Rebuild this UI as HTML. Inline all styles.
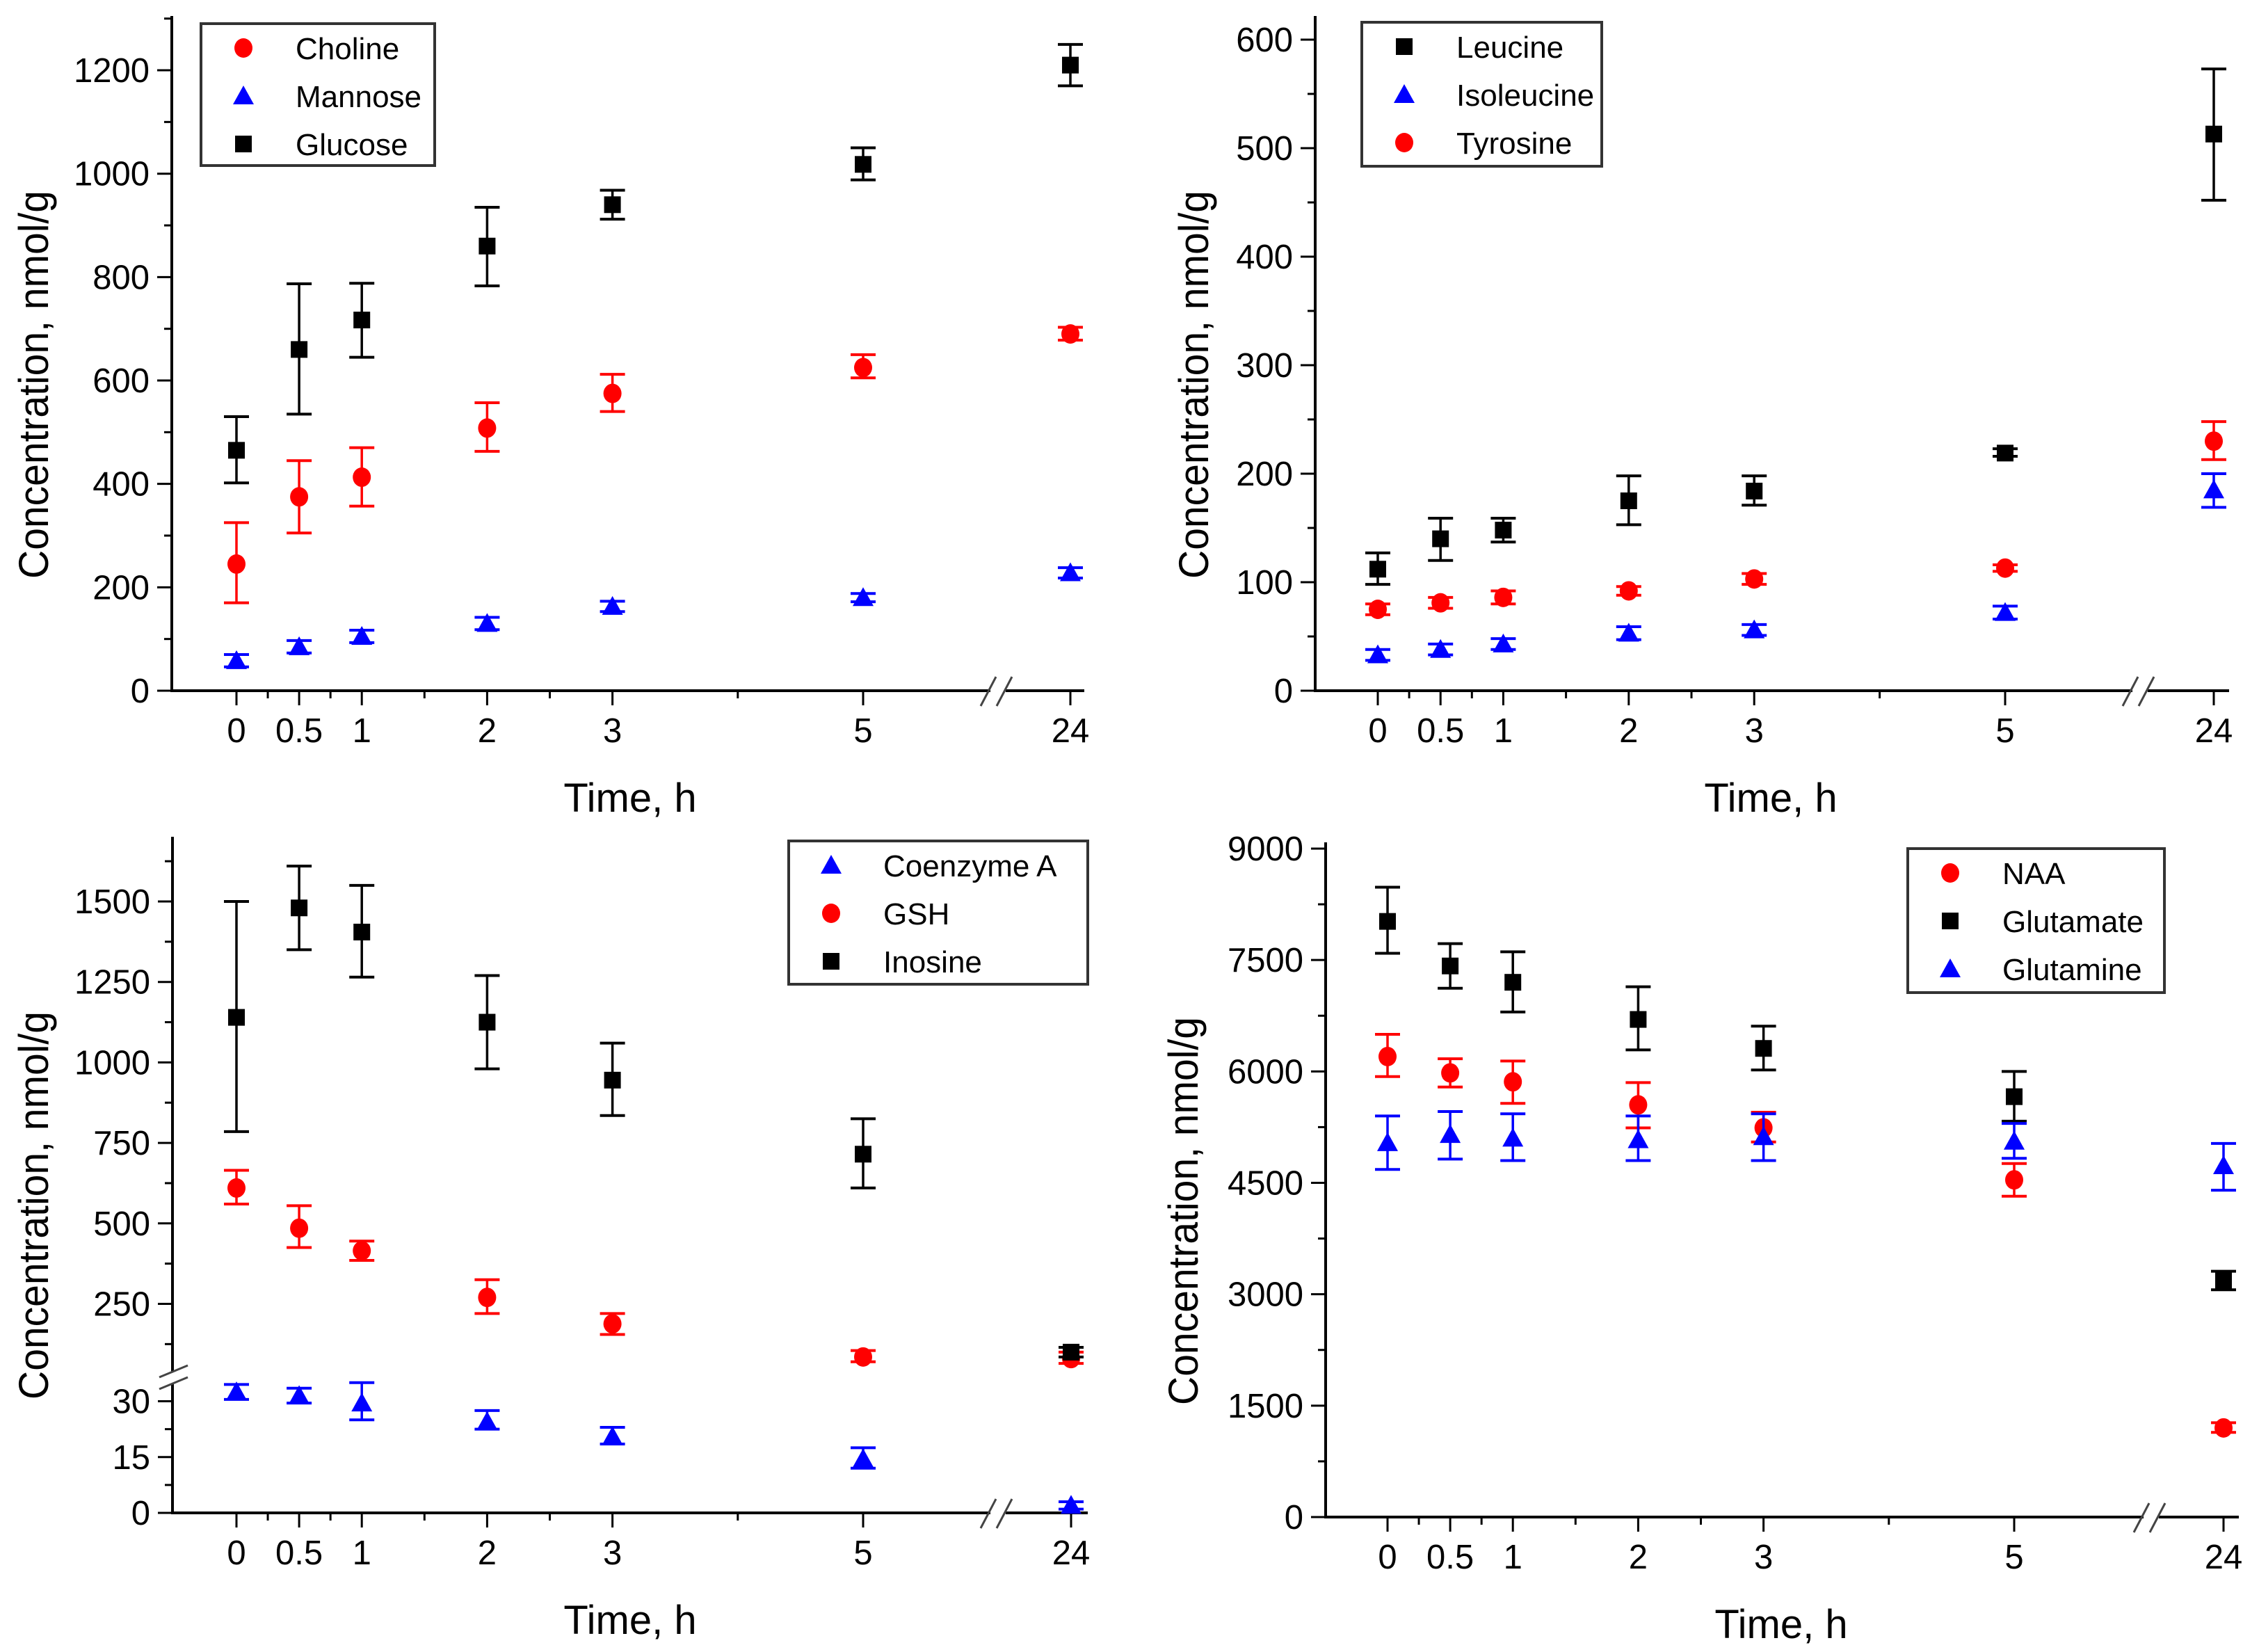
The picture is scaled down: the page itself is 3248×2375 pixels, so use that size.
<!DOCTYPE html>
<html><head><meta charset="utf-8"><style>
html,body{margin:0;padding:0;background:#fff;}
svg{display:block;font-family:"Liberation Sans",Arial,sans-serif;}
</style></head><body>
<svg id="fig" width="3248" height="2375" viewBox="0 0 3248 2375" xmlns="http://www.w3.org/2000/svg"></svg>
<script>
// ---- shared x-axis data ----
const timeCats = ["0","0.5","1","2","3","5","24"];
const timeVals = [0,0.5,1,2,3,5,24];

// ---- panel A ----
const aCholine = [245,375,413,508,575,625,690];
const aCholineLo = [170,305,357,463,540,605,678];
const aCholineHi = [325,445,470,557,612,650,703];
const aMannose = [58,85,105,130,163,180,228];
const aMannoseLo = [46,73,93,118,153,172,218];
const aMannoseHi = [70,97,117,142,173,188,238];
const aGlucose = [465,660,717,860,940,1018,1210];
const aGlucoseLo = [402,535,645,783,912,988,1170];
const aGlucoseHi = [530,787,788,935,968,1050,1250];
const aTicks = [0,200,400,600,800,1000,1200];

// ---- panel B ----
const bLeucine = [112,140,148,175,184,219,513];
const bLeucineLo = [98,120,137,153,171,216,452];
const bLeucineHi = [127,159,159,198,198,223,573];
const bIsoleucine = [33,38,43,53,56,72,185];
const bIsoleucineLo = [28,33,38,47,51,66,169];
const bIsoleucineHi = [38,43,48,59,61,78,200];
const bTyrosine = [75,81,86,92,103,113,230];
const bTyrosineLo = [70,76,80,88,98,110,213];
const bTyrosineHi = [80,86,92,96,108,116,248];
const bTicks = [0,100,200,300,400,500,600];

// ---- panel C ----
const cCoA = [32.5,31.5,29.5,24.5,20.5,14.5,2];
const cCoALo = [30.5,29.5,25,22.5,18.5,12,1];
const cCoAHi = [34.5,33.5,35,27.5,23,17.5,3];
const cGSH = [610,485,415,270,188,85,80];
const cGSHLo = [560,425,385,220,155,70,65];
const cGSHHi = [665,555,445,325,220,105,100];
const cInosine = [1140,1480,1405,1125,945,715,100];
const cInosineLo = [785,1350,1265,980,835,610,85];
const cInosineHi = [1500,1610,1550,1270,1060,825,115];
const cTicksUpper = [250,500,750,1000,1250,1500];
const cTicksLower = [0,15,30];

// ---- panel D ----
const dNAA = [6200,5980,5860,5550,5240,4540,1200];
const dNAALo = [5930,5790,5570,5240,5050,4320,1140];
const dNAAHi = [6500,6170,6140,5850,5450,4760,1270];
const dGlutamate = [8020,7420,7200,6700,6310,5660,3180];
const dGlutamateLo = [7590,7120,6800,6290,6020,5330,3060];
const dGlutamateHi = [8480,7720,7610,7140,6610,6000,3310];
const dGlutamine = [5040,5150,5100,5080,5120,5060,4730];
const dGlutamineLo = [4680,4820,4800,4800,4800,4830,4400];
const dGlutamineHi = [5400,5460,5430,5400,5430,5300,5030];
const dTicks = [0,1500,3000,4500,6000,7500,9000];

const NS = "http://www.w3.org/2000/svg";
const svg = document.getElementById('fig');
function mk(tag, attrs, parent){
  const e = document.createElementNS(NS, tag);
  for (const k in attrs) e.setAttribute(k, attrs[k]);
  (parent||svg).appendChild(e);
  return e;
}
const COL = {red:"#ff0000", blue:"#0000ff", black:"#000000"};
const TFS = 49;

function marker(g, shape, cx, cy, color, name){
  let m;
  if (shape === 'square') m = mk('rect', {x:cx-12, y:cy-12, width:24, height:24, fill:color}, g);
  else if (shape === 'circle') m = mk('ellipse', {cx:cx, cy:cy, rx:13, ry:14, fill:color}, g);
  else m = mk('polygon', {points:(cx)+','+(cy-15)+' '+(cx+15)+','+(cy+12)+' '+(cx-15)+','+(cy+12), fill:color}, g);
  
  
  return m;
}

function panel(P){
  const g = mk('g', {});
  
  
  const xs = t => t === 24 ? P.x24 : P.x0 + t * P.h;
  const ax = mk('g', {}, g);
  
  
  mk('line', {x1:P.yAxisX-1, y1:P.y0, x2:P.brk-8, y2:P.y0, stroke:'#000', 'stroke-width':4}, ax);
  mk('line', {x1:P.brk+14, y1:P.y0, x2:P.xEnd, y2:P.y0, stroke:'#000', 'stroke-width':4}, ax);
  mk('line', {x1:P.brk-22, y1:P.y0+22, x2:P.brk, y2:P.y0-20, stroke:'#444', 'stroke-width':3}, ax);
  mk('line', {x1:P.brk+1, y1:P.y0+22, x2:P.brk+23, y2:P.y0-20, stroke:'#444', 'stroke-width':3}, ax);
  timeVals.forEach((t,i)=>{
    const x = xs(t);
    mk('line', {x1:x, y1:P.y0, x2:x, y2:P.y0+21, stroke:'#000', 'stroke-width':3}, ax);
    const tl = mk('text', {x:x, y:P.y0+74, 'font-size':TFS, 'text-anchor':'middle', fill:'#000'}, ax);
    
    
    tl.textContent = timeCats[i];
  });
  [0.25,0.75,1.5,2.5,4].forEach(t=>{
    const x = xs(t);
    mk('line', {x1:x, y1:P.y0, x2:x, y2:P.y0+11, stroke:'#000', 'stroke-width':3}, ax);
  });
  const xt = mk('text', {x:P.xTitleX, y:P.y0+174, 'font-size':58, 'text-anchor':'middle', fill:'#000'}, g);
  
  
  xt.textContent = 'Time, h';
  const ay = mk('g', {}, g);
  
  
  P.yAxis(ay);
  const yt = mk('text', {x:0, y:0, 'font-size':60, 'text-anchor':'middle', fill:'#000', textLength:558, lengthAdjust:'spacingAndGlyphs', transform:'translate('+(P.yTitleX+20)+','+P.yTitleY+') rotate(-90)'}, g);
  
  
  yt.textContent = 'Concentration, nmol/g';
  P.series.forEach(s=>{
    const sg = mk('g', {}, g);
    
    
    s.v.forEach((v,i)=>{
      const x = xs(timeVals[i]);
      const yl = P.ys(s.lo[i]), yh = P.ys(s.hi[i]), yv = P.ys(v);
      const c = COL[s.color];
      mk('line', {x1:x, y1:yl, x2:x, y2:yh, stroke:c, 'stroke-width':3.5}, sg);
      mk('line', {x1:x-18, y1:yl, x2:x+18, y2:yl, stroke:c, 'stroke-width':4}, sg);
      mk('line', {x1:x-18, y1:yh, x2:x+18, y2:yh, stroke:c, 'stroke-width':4}, sg);
      marker(sg, s.shape, x, yv, c, 'data-point');
    });
  });
  const L = P.legend;
  const lg = mk('g', {}, g);
  
  
  mk('rect', {x:L.x, y:L.y, width:L.w, height:L.hgt, fill:'#fff', stroke:'#333', 'stroke-width':4}, lg);
  P.series.slice().sort((a,b)=>a.lorder-b.lorder).forEach((s,k)=>{
    const ry = L.y + 35 + k*69;
    const eg = mk('g', {}, lg);
    
    
    marker(eg, s.shape, L.x+61, ry, COL[s.color], 'legend-marker');
    const t = mk('text', {x:L.x+136, y:ry+16, 'font-size':44, fill:'#000'}, eg);
    t.textContent = s.name;
  });
}

function linearAxis(P, ticks, minor, lo, hi){
  return function(ay){
    mk('line', {x1:P.yAxisX, y1:P.y0+2, x2:P.yAxisX, y2:P.yTop, stroke:'#000', 'stroke-width':4}, ay);
    ticks.forEach(v=>{
      const y = P.ys(v);
      mk('line', {x1:P.yAxisX, y1:y, x2:P.yAxisX-21, y2:y, stroke:'#000', 'stroke-width':3}, ay);
      const t = mk('text', {x:P.yAxisX-32, y:y+17, 'font-size':TFS, 'text-anchor':'end', fill:'#000'}, ay);
      
      
      t.textContent = v;
    });
    for (let v = lo + minor/2; v <= hi; v += minor){
      const y = P.ys(v);
      if (y < P.yTop) break;
      mk('line', {x1:P.yAxisX, y1:y, x2:P.yAxisX-11, y2:y, stroke:'#000', 'stroke-width':3}, ay);
    }
  };
}

const PA = {id:'choline-glucose', yAxisX:247, y0:993, yTop:23, x0:340, h:180.2, x24:1539, xEnd:1559, brk:1432,
  xTitleX:906, yTitleX:49, yTitleY:553,
  ys: v => 993 - v*0.7433,
  legend:{x:289, y:34, w:336, hgt:204},
  series:[
    {name:'Choline', color:'red', shape:'circle', v:aCholine, lo:aCholineLo, hi:aCholineHi, lorder:0},
    {name:'Mannose', color:'blue', shape:'triangle', v:aMannose, lo:aMannoseLo, hi:aMannoseHi, lorder:1},
    {name:'Glucose', color:'black', shape:'square', v:aGlucose, lo:aGlucoseLo, hi:aGlucoseHi, lorder:2}
  ]};
PA.yAxis = linearAxis(PA, aTicks, 200, 0, 1300);
panel(PA);

const PB = {id:'amino-acids', yAxisX:1891, y0:993, yTop:23, x0:1981, h:180.4, x24:3183, xEnd:3205, brk:3074,
  xTitleX:2546, yTitleX:1717, yTitleY:553,
  ys: v => 993 - v*1.56,
  legend:{x:1958, y:32, w:345, hgt:207},
  series:[
    {name:'Leucine', color:'black', shape:'square', v:bLeucine, lo:bLeucineLo, hi:bLeucineHi, lorder:0},
    {name:'Isoleucine', color:'blue', shape:'triangle', v:bIsoleucine, lo:bIsoleucineLo, hi:bIsoleucineHi, lorder:1},
    {name:'Tyrosine', color:'red', shape:'circle', v:bTyrosine, lo:bTyrosineLo, hi:bTyrosineHi, lorder:2}
  ]};
PB.yAxis = linearAxis(PB, bTicks, 100, 0, 620);
panel(PB);

const PC = {id:'inosine-gsh', yAxisX:248, y0:2175, yTop:1203, x0:340, h:180.2, x24:1540, xEnd:1564, brk:1432,
  xTitleX:906, yTitleX:49, yTitleY:1733,
  ys: v => v <= 36 ? 2175 - v*5.35 : 1874.5 - (v-250)*0.4628,
  legend:{x:1134, y:1209, w:430, hgt:206},
  series:[
    {name:'Coenzyme A', color:'blue', shape:'triangle', v:cCoA, lo:cCoALo, hi:cCoAHi, lorder:0},
    {name:'GSH', color:'red', shape:'circle', v:cGSH, lo:cGSHLo, hi:cGSHHi, lorder:1},
    {name:'Inosine', color:'black', shape:'square', v:cInosine, lo:cInosineLo, hi:cInosineHi, lorder:2}
  ]};
PC.yAxis = function(ay){
  const X = PC.yAxisX;
  mk('line', {x1:X, y1:PC.y0+2, x2:X, y2:1990, stroke:'#000', 'stroke-width':4}, ay);
  mk('line', {x1:X, y1:1973, x2:X, y2:PC.yTop, stroke:'#000', 'stroke-width':4}, ay);
  mk('line', {x1:229, y1:1980, x2:270, y2:1963, stroke:'#444', 'stroke-width':3}, ay);
  mk('line', {x1:229, y1:1997, x2:270, y2:1980, stroke:'#444', 'stroke-width':3}, ay);
  cTicksUpper.concat(cTicksLower).forEach(v=>{
    const y = PC.ys(v);
    mk('line', {x1:X, y1:y, x2:X-21, y2:y, stroke:'#000', 'stroke-width':3}, ay);
    const t = mk('text', {x:X-32, y:y+17, 'font-size':TFS, 'text-anchor':'end', fill:'#000'}, ay);
    
    
    t.textContent = v;
  });
  [125,375,625,875,1125,1375,1625].forEach(v=>{
    const y = PC.ys(v);
    mk('line', {x1:X, y1:y, x2:X-11, y2:y, stroke:'#000', 'stroke-width':3}, ay);
  });
  [7.5,22.5].forEach(v=>{
    const y = PC.ys(v);
    mk('line', {x1:X, y1:y, x2:X-11, y2:y, stroke:'#000', 'stroke-width':3}, ay);
  });
};
panel(PC);

const PD = {id:'glutamate-naa', yAxisX:1906, y0:2181, yTop:1211, x0:1995, h:180.2, x24:3197, xEnd:3219, brk:3090,
  xTitleX:2561, yTitleX:1702, yTitleY:1741,
  ys: v => 2181 - v*961/9000,
  legend:{x:2743, y:1220, w:369, hgt:207},
  series:[
    {name:'NAA', color:'red', shape:'circle', v:dNAA, lo:dNAALo, hi:dNAAHi, lorder:0},
    {name:'Glutamate', color:'black', shape:'square', v:dGlutamate, lo:dGlutamateLo, hi:dGlutamateHi, lorder:1},
    {name:'Glutamine', color:'blue', shape:'triangle', v:dGlutamine, lo:dGlutamineLo, hi:dGlutamineHi, lorder:2}
  ]};
PD.yAxis = linearAxis(PD, dTicks, 1500, 0, 9100);
panel(PD);
</script>
</body></html>
